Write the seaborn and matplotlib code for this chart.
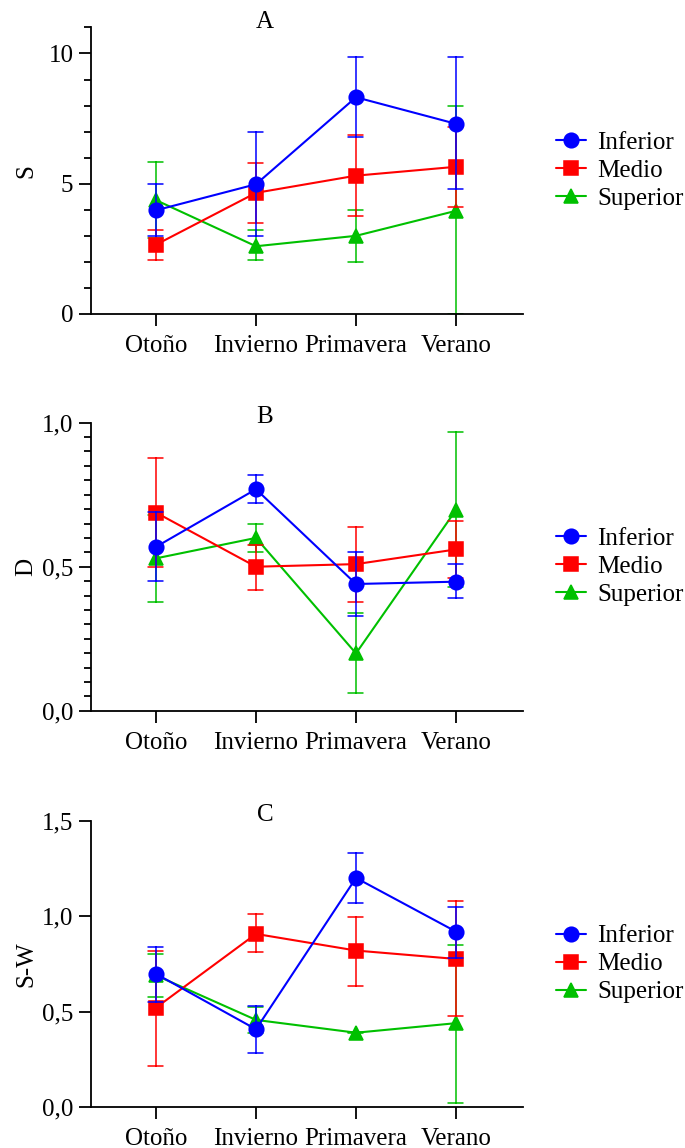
import pandas as pd
import numpy as np
import matplotlib.pyplot as plt
import matplotlib.ticker as mticker
import seaborn as sns

seasons = ["Otoño", "Invierno", "Primavera", "Verano"]
groups = ["Inferior", "Medio", "Superior"]

# Panel A - S (mean, lower and upper end of the error bar)
S_mean = {"Inferior": [3.98, 4.98, 8.32, 7.30],
          "Medio": [2.66, 4.65, 5.31, 5.65],
          "Superior": [4.37, 2.60, 3.00, 3.96]}
S_lo = {"Inferior": [2.99, 2.99, 6.80, 4.80],
        "Medio": [2.08, 3.51, 3.76, 4.11],
        "Superior": [2.90, 2.08, 2.00, 0.00]}
S_hi = {"Inferior": [4.98, 6.98, 9.85, 9.85],
        "Medio": [3.24, 5.80, 6.87, 7.19],
        "Superior": [5.84, 3.24, 4.00, 8.00]}

# Panel B - D
D_mean = {"Inferior": [0.569, 0.769, 0.440, 0.448],
          "Medio": [0.688, 0.500, 0.509, 0.560],
          "Superior": [0.529, 0.600, 0.199, 0.697]}
D_lo = {"Inferior": [0.450, 0.720, 0.330, 0.390],
        "Medio": [0.500, 0.419, 0.378, 0.460],
        "Superior": [0.378, 0.550, 0.060, 0.430]}
D_hi = {"Inferior": [0.690, 0.820, 0.550, 0.508],
        "Medio": [0.878, 0.575, 0.638, 0.660],
        "Superior": [0.680, 0.648, 0.340, 0.968]}

# Panel C - S-W
SW_mean = {"Inferior": [0.698, 0.408, 1.200, 0.919],
           "Medio": [0.521, 0.907, 0.820, 0.776],
           "Superior": [0.690, 0.457, 0.390, 0.440]}
SW_lo = {"Inferior": [0.553, 0.286, 1.071, 0.783],
         "Medio": [0.216, 0.811, 0.636, 0.479],
         "Superior": [0.576, 0.390, 0.386, 0.024]}
SW_hi = {"Inferior": [0.840, 0.530, 1.329, 1.047],
         "Medio": [0.820, 1.010, 0.997, 1.080],
         "Superior": [0.800, 0.523, 0.394, 0.849]}

sns.set_style("ticks")
plt.rcParams["font.family"] = ["Liberation Serif", "DejaVu Serif"]
plt.rcParams["font.size"] = 18
plt.rcParams["axes.edgecolor"] = "black"
plt.rcParams["xtick.color"] = "black"
plt.rcParams["ytick.color"] = "black"
plt.rcParams["text.color"] = "black"
plt.rcParams["axes.labelcolor"] = "black"

colors = {"Inferior": "#0000ff", "Medio": "#ff0000", "Superior": "#00c000"}
marks = {"Inferior": "o", "Medio": "s", "Superior": "^"}
# green drawn first, blue on top
draw_order = ["Superior", "Medio", "Inferior"]


def long_table(mean, lo, hi):
    # three rows per point: median gives the mean, min-max gives the bar
    rows = []
    for g in groups:
        for i, s in enumerate(seasons):
            for v in (lo[g][i], mean[g][i], hi[g][i]):
                rows.append({"Estación": s, "Grupo": g, "valor": v})
    return pd.DataFrame(rows)


comma = mticker.FuncFormatter(lambda v, p: f"{v:.1f}".replace(".", ","))
plain = mticker.FuncFormatter(lambda v, p: f"{v:.0f}")

panels = [
    ("A", "S", long_table(S_mean, S_lo, S_hi), 11, [0, 5, 10], 1, plain, 0.7265, 0.2496),
    ("B", "D", long_table(D_mean, D_lo, D_hi), 1.0, [0, 0.5, 1.0], 0.05, comma, 0.3809, 0.2509),
    ("C", "S-W", long_table(SW_mean, SW_lo, SW_hi), 1.5, [0, 0.5, 1.0, 1.5], None, comma, 0.0355, 0.2497),
]

fig = plt.figure(figsize=(6.85, 11.48), dpi=100)

for letter, ylab, df, ymax, major, minor, fmt, bottom, height in panels:
    ax = fig.add_axes([0.1328, bottom, 0.6307, height])
    sns.pointplot(data=df, x="Estación", y="valor", hue="Grupo", order=seasons,
                  hue_order=draw_order, palette=colors,
                  markers=[marks[g] for g in draw_order], linestyles="-",
                  estimator="median", errorbar=("pi", 100), capsize=0.15,
                  err_kws={"linewidth": 1.1}, linewidth=1.5, markersize=10.5, ax=ax)

    ax.set_xlim(-0.65, 3.67)
    ax.set_ylim(0, ymax)
    ax.set_yticks(major)
    ax.yaxis.set_major_formatter(fmt)
    if minor:
        ax.yaxis.set_minor_locator(mticker.MultipleLocator(minor))
    ax.set_xlabel("")
    ax.set_ylabel(ylab, fontsize=18)
    ax.yaxis.set_label_coords(-0.125, 0.5)
    sns.despine(ax=ax)
    for sp in ["left", "bottom"]:
        ax.spines[sp].set_linewidth(1.3)
    ax.tick_params(axis="both", which="major", length=8.6, width=1.3, labelsize=18)
    ax.tick_params(axis="x", pad=6.5)
    ax.tick_params(axis="y", pad=4)
    ax.tick_params(axis="y", which="minor", length=5, width=1.3)

    ax.text(0.403, 1.02, letter, transform=ax.transAxes, ha="center", va="center", fontsize=18)

    leg = ax.get_legend()
    hand = dict(zip([t.get_text() for t in leg.get_texts()], leg.legend_handles))
    ax.legend([hand[g] for g in groups], groups, loc="center left",
              bbox_to_anchor=(1.076, 0.499), frameon=False, fontsize=18,
              handlelength=1.2, handletextpad=0.45, labelspacing=0.22,
              borderpad=0, borderaxespad=0)

fig.savefig("out.png", dpi=100)
